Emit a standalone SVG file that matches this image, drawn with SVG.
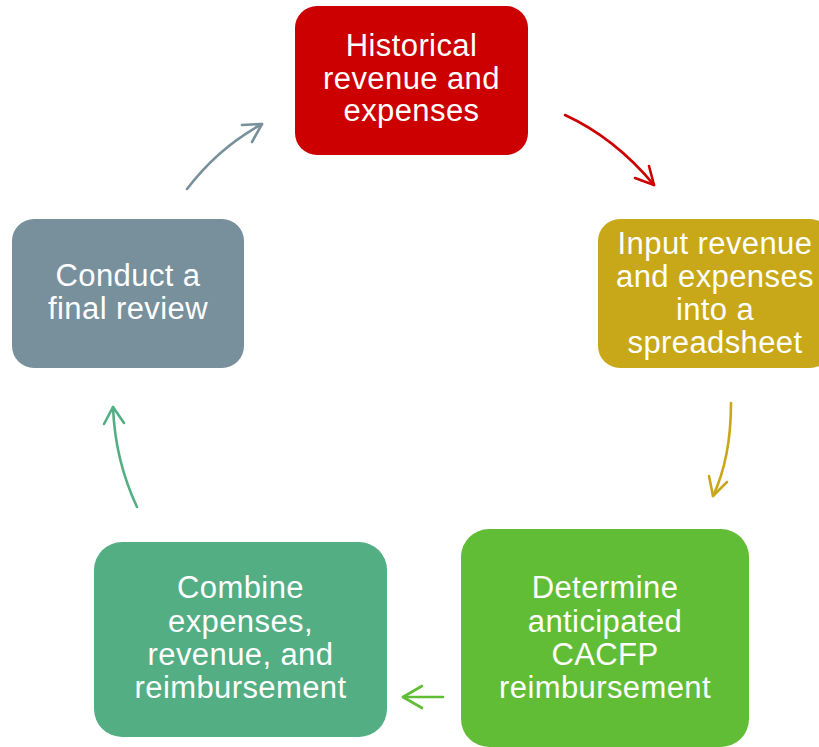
<svg xmlns="http://www.w3.org/2000/svg" width="819" height="747" viewBox="0 0 819 747">
<style>
.lbl{font-family:"Liberation Sans",Arial,sans-serif;font-size:31px;fill:#ffffff;text-anchor:middle;letter-spacing:0.4px}
.arr{fill:none;stroke-width:2.6;stroke-linecap:round;stroke-linejoin:round}
</style>
<rect width="819" height="747" fill="#ffffff"/>
<g id="connectors">
<g stroke="#CC0000" class="arr"><path class="arr" d="M565,115 Q615,138 654,185"/><path class="arr" d="M649,166 L654,185 L635,178"/></g>
<g stroke="#C8A818" class="arr"><path class="arr" d="M731,403 Q731,458 713,496"/><path class="arr" d="M709,476 L713,496 L727,482"/></g>
<g stroke="#62BD36" class="arr"><path class="arr" d="M443,697 L403,697"/><path class="arr" d="M422,686 L403,697 L422,708"/></g>
<g stroke="#53AE84" class="arr"><path class="arr" d="M137,507 Q115,460 113,407"/><path class="arr" d="M104,424 L113,407 L124,423"/></g>
<g stroke="#78909B" class="arr"><path class="arr" d="M187,189 Q218,148 262,124"/><path class="arr" d="M242,125 L262,124 L252,142"/></g>
</g>
<g id="node1">
<rect x="295" y="6" width="233" height="149" rx="22" fill="#CC0000"/>
<text class="lbl" x="411.5" y="56">Historical</text>
<text class="lbl" x="411.5" y="88.5">revenue and</text>
<text class="lbl" x="411.5" y="121">expenses</text>
</g>
<g id="node2">
<rect x="598" y="219" width="234" height="149" rx="22" fill="#C8A818"/>
<text class="lbl" x="715" y="254">Input revenue</text>
<text class="lbl" x="715" y="287">and expenses</text>
<text class="lbl" x="715" y="320">into a</text>
<text class="lbl" x="715" y="353">spreadsheet</text>
</g>
<g id="node3">
<rect x="461" y="529" width="288" height="218" rx="28" fill="#62BD36"/>
<text class="lbl" x="605" y="598">Determine</text>
<text class="lbl" x="605" y="631.5">anticipated</text>
<text class="lbl" x="605" y="665">CACFP</text>
<text class="lbl" x="605" y="698">reimbursement</text>
</g>
<g id="node4">
<rect x="94" y="542" width="293" height="195" rx="28" fill="#53AE84"/>
<text class="lbl" x="240.5" y="598">Combine</text>
<text class="lbl" x="240.5" y="631.5">expenses,</text>
<text class="lbl" x="240.5" y="665">revenue, and</text>
<text class="lbl" x="240.5" y="698">reimbursement</text>
</g>
<g id="node5">
<rect x="12" y="219" width="232" height="149" rx="22" fill="#78909B"/>
<text class="lbl" x="128" y="286">Conduct a</text>
<text class="lbl" x="128" y="319">final review</text>
</g>
</svg>
